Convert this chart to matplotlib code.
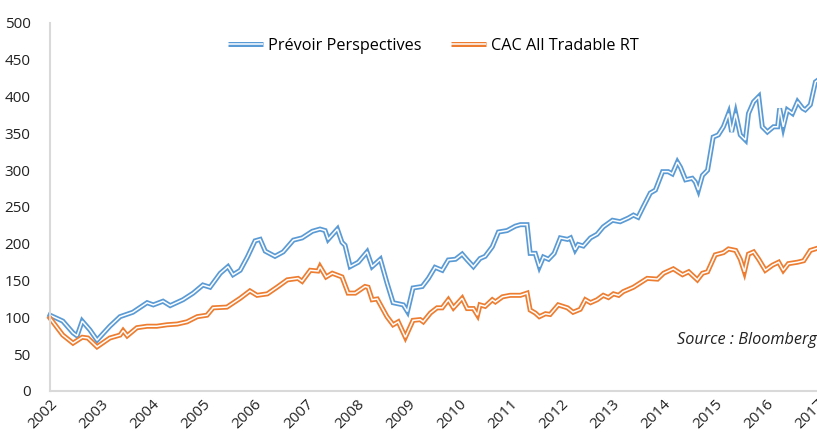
import matplotlib
matplotlib.use('Agg')
from matplotlib import pyplot as plt
from matplotlib.lines import Line2D
from matplotlib.legend_handler import HandlerTuple, HandlerLine2D

# Prévoir Perspectives (decimal year, index value)
prevoir_x = [2002.00, 2002.25, 2002.45, 2002.53, 2002.63, 2002.78, 2002.92, 2003.17, 2003.37, 2003.62,
             2003.90, 2004.02, 2004.21, 2004.35, 2004.60, 2004.80, 2004.99, 2005.13, 2005.33, 2005.48,
             2005.58, 2005.72, 2005.86, 2006.01, 2006.11, 2006.21, 2006.40, 2006.56, 2006.76, 2006.93,
             2007.13, 2007.28, 2007.38, 2007.44, 2007.62, 2007.71, 2007.77, 2007.87, 2008.03, 2008.20,
             2008.30, 2008.46, 2008.59, 2008.71, 2008.91, 2008.99, 2009.10, 2009.28, 2009.40, 2009.53,
             2009.67, 2009.79, 2009.93, 2010.06, 2010.16, 2010.28, 2010.41, 2010.51, 2010.65, 2010.77,
             2010.94, 2011.10, 2011.20, 2011.33, 2011.39, 2011.49, 2011.57, 2011.65, 2011.75, 2011.86,
             2011.98, 2012.12, 2012.18, 2012.27, 2012.33, 2012.43, 2012.57, 2012.70, 2012.82, 2013.00,
             2013.15, 2013.31, 2013.41, 2013.50, 2013.60, 2013.74, 2013.84, 2013.98, 2014.09, 2014.17,
             2014.27, 2014.33, 2014.43, 2014.56, 2014.62, 2014.68, 2014.76, 2014.86, 2014.97, 2015.07,
             2015.17, 2015.27, 2015.33, 2015.41, 2015.50, 2015.60, 2015.66, 2015.76, 2015.86, 2015.93,
             2016.03, 2016.15, 2016.23, 2016.27, 2016.34, 2016.42, 2016.52, 2016.62, 2016.72, 2016.77,
             2016.87, 2016.97, 2017.01]
prevoir_y = [103, 95, 79, 75, 95, 83, 69, 88, 101, 107,
             120, 117, 122, 116, 124, 133, 144, 141, 160, 169,
             158, 164, 182, 204, 206, 190, 183, 189, 205, 208,
             217, 220, 218, 206, 220, 202, 198, 169, 175, 189,
             169, 179, 147, 120, 117, 108, 140, 142, 153, 168,
             164, 178, 179, 186, 178, 169, 180, 183, 196, 216,
             218, 224, 226, 226, 187, 187, 169, 182, 179, 187,
             208, 206, 208, 192, 199, 197, 208, 213, 223, 232,
             230, 235, 239, 236, 250, 269, 273, 298, 298, 295,
             311, 304, 287, 289, 284, 273, 293, 300, 345, 348,
             359, 377, 352, 377, 348, 341, 377, 393, 400, 359,
             352, 359, 359, 384, 359, 382, 377, 393, 384, 382,
             389, 420, 422]

# CAC All Tradable RT
cac_x = [2002.00, 2002.25, 2002.45, 2002.63, 2002.74, 2002.92, 2003.17, 2003.37, 2003.43, 2003.51,
         2003.70, 2003.90, 2004.09, 2004.29, 2004.49, 2004.68, 2004.88, 2005.07, 2005.19, 2005.46,
         2005.72, 2005.91, 2006.05, 2006.25, 2006.44, 2006.64, 2006.85, 2006.93, 2007.09, 2007.24,
         2007.28, 2007.40, 2007.52, 2007.71, 2007.83, 2007.97, 2008.16, 2008.22, 2008.30, 2008.40,
         2008.59, 2008.71, 2008.81, 2008.95, 2009.10, 2009.24, 2009.30, 2009.44, 2009.57, 2009.67,
         2009.79, 2009.89, 2010.06, 2010.16, 2010.28, 2010.36, 2010.41, 2010.51, 2010.65, 2010.71,
         2010.85, 2011.00, 2011.20, 2011.33, 2011.39, 2011.49, 2011.57, 2011.69, 2011.78, 2011.94,
         2012.12, 2012.23, 2012.37, 2012.47, 2012.57, 2012.70, 2012.82, 2012.92, 2013.02, 2013.12,
         2013.21, 2013.41, 2013.68, 2013.88, 2014.00, 2014.19, 2014.37, 2014.49, 2014.66, 2014.76,
         2014.86, 2015.01, 2015.17, 2015.27, 2015.41, 2015.50, 2015.58, 2015.66, 2015.76, 2015.86,
         2015.99, 2016.13, 2016.25, 2016.34, 2016.44, 2016.62, 2016.74, 2016.87, 2017.01]
cac_y = [99, 76, 65, 73, 72, 60, 72, 76, 82, 75,
         86, 88, 88, 90, 91, 94, 101, 103, 113, 114,
         126, 136, 130, 132, 141, 151, 153, 149, 164, 163,
         169, 155, 160, 155, 133, 133, 142, 141, 124, 125,
         101, 90, 94, 73, 96, 97, 94, 106, 113, 113,
         124, 113, 126, 112, 112, 103, 117, 115, 124, 121,
         128, 130, 130, 133, 110, 106, 101, 105, 104, 117,
         113, 107, 111, 124, 120, 124, 130, 127, 132, 130,
         135, 141, 153, 152, 160, 166, 158, 162, 151, 160,
         162, 185, 188, 193, 191, 179, 162, 186, 189, 179,
         164, 171, 175, 164, 173, 175, 177, 191, 194]

years = list(range(2002, 2018))
series = [('Prévoir Perspectives', prevoir_x, prevoir_y, '#5B9BD5'),
          ('CAC All Tradable RT', cac_x, cac_y, '#ED7D31')]

plt.rcParams['font.family'] = ['Open Sans', 'DejaVu Sans']

fig = plt.figure(figsize=(8.17, 4.42), dpi=100)
ax = fig.add_axes([50 / 817, 1 - 391 / 442, 767 / 817, 368 / 442])

handles = []
for name, xs, ys, color in series:
    # Excel style double line: thick coloured stroke with a white core
    ax.plot(xs, ys, color=color, lw=3.6, solid_joinstyle='miter', clip_on=False)
    ax.plot(xs, ys, color='white', lw=1.1, solid_joinstyle='miter', clip_on=False)
    handles.append((Line2D([], [], color=color, lw=3.6, solid_capstyle='butt'),
                    Line2D([], [], color='white', lw=1.1, solid_capstyle='butt')))

ax.set_xlim(2002, 2017)
ax.set_ylim(0, 500)
ax.set_yticks(range(0, 501, 50))
ax.set_xticks(years)
ax.set_xticklabels([str(y) for y in years], rotation=45, ha='right', va='top',
                   rotation_mode='anchor', fontsize=11, color='#222222')
ax.tick_params(axis='y', length=0, pad=14, labelsize=11, labelcolor='#222222')
ax.tick_params(axis='x', length=0, pad=4)

for side in ['top', 'right']:
    ax.spines[side].set_visible(False)
ax.spines['left'].set_color('#D9D9D9')
ax.spines['left'].set_linewidth(1.5)
ax.spines['bottom'].set_color('#D9D9D9')
ax.spines['bottom'].set_linewidth(1.5)

ax.legend(handles, [s[0] for s in series],
          handler_map={tuple: HandlerTuple(ndivide=1, pad=0), Line2D: HandlerLine2D(marker_pad=0)},
          loc='upper center', bbox_to_anchor=(0.5, 1.0), ncol=2, frameon=False,
          fontsize=11.7, handlelength=2.15, columnspacing=1.85, handletextpad=0.3)

ax.text(2017.0, 69, 'Source : Bloomberg', style='italic', ha='right', va='center',
        fontsize=11.7, color='#222222')

fig.savefig('out.png', dpi=100)
